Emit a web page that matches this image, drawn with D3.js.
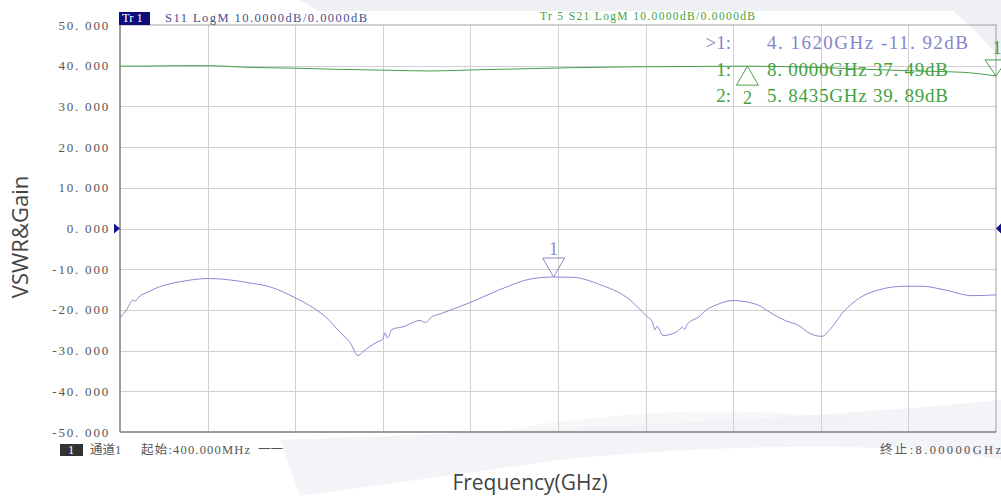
<!DOCTYPE html>
<html lang="zh">
<head>
<meta charset="UTF-8">
<title>S11 / S21</title>
<script src="https://d3js.org/d3.v7.min.js"></script>
<style>
  body { margin: 0; background: #fff; }
  svg { display: block; }
  .inst { font-family: "Liberation Serif", "Noto Sans CJK SC", serif; }
  .sans { font-family: "Open Sans", "Noto Sans", sans-serif; }
</style>
</head>
<body>
<svg width="1001" height="496"></svg>
<script>
// S11 trace (blue) - frequency in GHz, level in dB
const s11Freq = [0.400, 0.460, 0.513, 0.530, 0.560, 0.643, 0.700, 0.790, 0.938, 1.163, 1.311, 1.510,
  1.719, 1.918, 2.031, 2.179, 2.326, 2.395, 2.465, 2.510, 2.552, 2.638, 2.680, 2.699, 2.720, 2.760,
  2.873, 2.930, 3.003, 3.050, 3.100, 3.176, 3.437, 3.697, 3.983, 4.162, 4.330, 4.565, 4.799, 4.972,
  5.020, 5.040, 5.059, 5.111, 5.233, 5.280, 5.300, 5.319, 5.432, 5.470, 5.580, 5.718, 5.927, 6.039,
  6.187, 6.274, 6.386, 6.490, 6.560, 6.673, 6.820, 6.994, 7.193, 7.367, 7.540, 7.800, 8.000];
const s11dB = [-22.0, -19.8, -17.6, -17.9, -16.9, -15.6, -14.8, -13.9, -13.0, -12.3, -12.5, -13.3,
  -14.5, -17.0, -18.7, -21.6, -26.0, -28.0, -31.2, -30.2, -29.3, -27.8, -27.2, -25.6, -26.9, -24.8,
  -24.0, -23.2, -22.6, -23.1, -21.8, -21.0, -18.2, -15.0, -12.3, -11.92, -12.0, -13.8, -17.0, -21.6,
  -23.0, -24.9, -24.0, -26.3, -25.3, -24.3, -24.8, -23.6, -21.5, -20.4, -18.7, -17.7, -18.7, -20.6,
  -22.8, -23.6, -25.8, -26.5, -24.8, -20.6, -17.0, -15.0, -14.2, -14.2, -15.0, -16.5, -16.3];

// S21 trace (green)
const s21Freq = [0.400, 0.600, 0.900, 1.163, 1.500, 1.918, 2.300, 2.700, 3.100, 3.500, 4.000, 4.300,
  4.800, 5.300, 5.8435, 6.300, 6.800, 7.300, 7.700, 8.000];
const s21dB = [39.9, 39.9, 40.0, 40.0, 39.6, 39.4, 39.1, 38.9, 38.7, 39.0, 39.3, 39.5,
  39.7, 39.8, 39.89, 39.7, 39.2, 38.7, 38.4, 37.49];

const yTicks = [50, 40, 30, 20, 10, 0, -10, -20, -30, -40, -50];
const yTickLabels = ["50. 000", "40. 000", "30. 000", "20. 000", "10. 000", "0. 000",
  "-10. 000", "-20. 000", "-30. 000", "-40. 000", "-50. 000"];
const xGrid = d3.range(11).map(i => 0.4 + i * 0.76);

// markers
const s11Markers = [{ id: "1", f: 4.162, v: -11.92 }];
const s21Markers = [{ id: "1", f: 8.0, v: 37.49, dir: "down" }, { id: "2", f: 5.8435, v: 39.89, dir: "up" }];
const readouts = [
  { head: ">1:", text: "4. 1620GHz -11. 92dB", color: "#8585cc", len: 201 },
  { head: "1:", text: "8. 0000GHz 37. 49dB", color: "#3fa33f", len: 181 },
  { head: "2:", text: "5. 8435GHz 39. 89dB", color: "#3fa33f", len: 181 }
];

const blue = "#8a8ad0", green = "#4a9e4a";
const svg = d3.select("svg");
const x = d3.scaleLinear().domain([0.4, 8]).range([120, 996]);
const y = d3.scaleLinear().domain([-50, 50]).range([432, 25]);

// faint background watermark
const bg = svg.append("g").attr("fill", "#eef0f3");
bg.append("path").attr("d", "M300,0 L1001,0 L1001,11 L318,11 Z");
bg.append("path").attr("d", "M940,0 L1001,0 L1001,60 C985,40 965,20 940,0 Z");
bg.append("path").attr("d", "M280,440 C500,432 800,420 1001,400 L1001,460 C900,440 700,445 560,460 L300,496 Z").attr("opacity", 0.7);
bg.append("path").attr("d", "M500,432 C600,410 800,400 900,432 Z").attr("opacity", 0.5);

// grid
const grid = svg.append("g").attr("stroke", "#d0d0d0").attr("stroke-width", 1);
grid.selectAll("line.v").data(xGrid.slice(1, -1)).enter().append("line")
  .attr("x1", d => Math.round(x(d)) + 0.5).attr("x2", d => Math.round(x(d)) + 0.5)
  .attr("y1", y(50)).attr("y2", y(-50));
grid.selectAll("line.h").data(yTicks.slice(1, -1)).enter().append("line")
  .attr("x1", x(0.4)).attr("x2", x(8))
  .attr("y1", d => Math.round(y(d)) + 0.5).attr("y2", d => Math.round(y(d)) + 0.5);

// frame
svg.append("rect").attr("x", x(0.4)).attr("y", y(50))
  .attr("width", x(8) - x(0.4)).attr("height", y(-50) - y(50))
  .attr("fill", "none").attr("stroke", "#a0a0a0").attr("stroke-width", 1);
svg.append("line").attr("x1", x(0.4)).attr("x2", x(0.4)).attr("y1", y(50)).attr("y2", y(-50))
  .attr("stroke", "#8c8c8c").attr("stroke-width", 1.5);
svg.append("line").attr("x1", x(0.4)).attr("x2", x(8)).attr("y1", y(-50)).attr("y2", y(-50))
  .attr("stroke", "#8c8c8c").attr("stroke-width", 1.5);

// y tick labels
svg.append("g").attr("class", "inst").selectAll("text").data(yTicks).enter().append("text")
  .attr("x", 110).attr("y", d => y(d) + 4.5)
  .attr("text-anchor", "end").attr("font-size", 13).attr("letter-spacing", 1.8).attr("fill", "#555")
  .text((d, i) => yTickLabels[i]);

// reference arrows at 0 dB
svg.append("path").attr("d", `M114,${y(0) - 5} L120,${y(0)} L114,${y(0) + 5} Z`).attr("fill", "#10108a");
svg.append("path").attr("d", `M1001,${y(0) - 5} L996,${y(0)} L1001,${y(0) + 5} Z`).attr("fill", "#10108a");

// traces
const line = d3.line().x(d => x(d[0])).y(d => y(d[1])).curve(d3.curveMonotoneX);
svg.append("path").datum(s21Freq.map((f, i) => [f, s21dB[i]]))
  .attr("d", line).attr("fill", "none").attr("stroke", green).attr("stroke-width", 1);
svg.append("path").datum(s11Freq.map((f, i) => [f, s11dB[i]]))
  .attr("d", line).attr("fill", "none").attr("stroke", blue).attr("stroke-width", 1);

// markers
const mk = svg.append("g").attr("class", "inst").attr("font-size", 18);
s11Markers.forEach(m => {
  const px = x(m.f), py = y(m.v);
  mk.append("path").attr("d", `M${px - 11},${py - 19} L${px + 11},${py - 19} L${px},${py} Z`)
    .attr("fill", "none").attr("stroke", blue).attr("stroke-width", 1);
  mk.append("text").attr("x", px).attr("y", py - 22).attr("text-anchor", "middle")
    .attr("fill", blue).text(m.id);
});
s21Markers.forEach(m => {
  const px = x(m.f), py = y(m.v);
  if (m.dir === "down") {
    mk.append("path").attr("d", `M${px - 11},${py - 16} L${px + 11},${py - 16} L${px},${py} Z`)
      .attr("fill", "none").attr("stroke", green).attr("stroke-width", 1);
    mk.append("text").attr("x", px + 1).attr("y", py - 22).attr("text-anchor", "middle")
      .attr("fill", green).text(m.id);
  } else {
    mk.append("path").attr("d", `M${px},${py} L${px + 11},${py + 19} L${px - 11},${py + 19} Z`)
      .attr("fill", "none").attr("stroke", green).attr("stroke-width", 1);
    mk.append("text").attr("x", px).attr("y", py + 38).attr("text-anchor", "middle")
      .attr("fill", green).text(m.id);
  }
});

// marker readouts
const ro = svg.append("g").attr("class", "inst").attr("font-size", 19);
readouts.forEach((r, i) => {
  const by = 49 + i * 26.5;
  ro.append("text").attr("x", 731).attr("y", by).attr("text-anchor", "end")
    .attr("fill", r.color).text(r.head);
  ro.append("text").attr("x", 767).attr("y", by).attr("fill", r.color)
    .attr("textLength", r.len).attr("lengthAdjust", "spacing").text(r.text);
});

// header
svg.append("rect").attr("x", 119).attr("y", 12).attr("width", 31).attr("height", 13).attr("fill", "#0c0c7a");
const hd = svg.append("g").attr("class", "inst").attr("font-size", 12.5);
hd.append("text").attr("x", 122).attr("y", 22).attr("fill", "#fff").text("Tr 1");
hd.append("text").attr("x", 165).attr("y", 22).attr("fill", "#44508a")
  .attr("textLength", 202).text("S11 LogM 10.0000dB/0.0000dB");
hd.append("text").attr("x", 540).attr("y", 20).attr("fill", "#3fa33f").attr("font-size", 11.5)
  .attr("textLength", 215).text("Tr 5  S21 LogM 10.0000dB/0.0000dB");

// footer
svg.append("rect").attr("x", 60).attr("y", 444).attr("width", 23).attr("height", 12).attr("fill", "#333");
const ft = svg.append("g").attr("class", "inst").attr("font-size", 12.5).attr("fill", "#555");
ft.append("text").attr("x", 71).attr("y", 454).attr("text-anchor", "middle").attr("fill", "#fff").text("1");
ft.append("text").attr("x", 90).attr("y", 454).text("通道1");
ft.append("text").attr("x", 141).attr("y", 454).attr("textLength", 109).text("起始:400.000MHz");
ft.append("text").attr("x", 258).attr("y", 454).text("一一");
ft.append("text").attr("x", 880).attr("y", 454).attr("textLength", 121).text("终止:8.00000GHz");

// axis titles
svg.append("text").attr("class", "sans").attr("font-size", 22).attr("fill", "#444")
  .attr("text-anchor", "middle").attr("transform", "translate(28,237) rotate(-90)").text("VSWR&Gain");
svg.append("text").attr("class", "sans").attr("font-size", 21).attr("fill", "#444")
  .attr("text-anchor", "middle").attr("x", 530).attr("y", 490).text("Frequency(GHz)");
</script>
</body>
</html>
